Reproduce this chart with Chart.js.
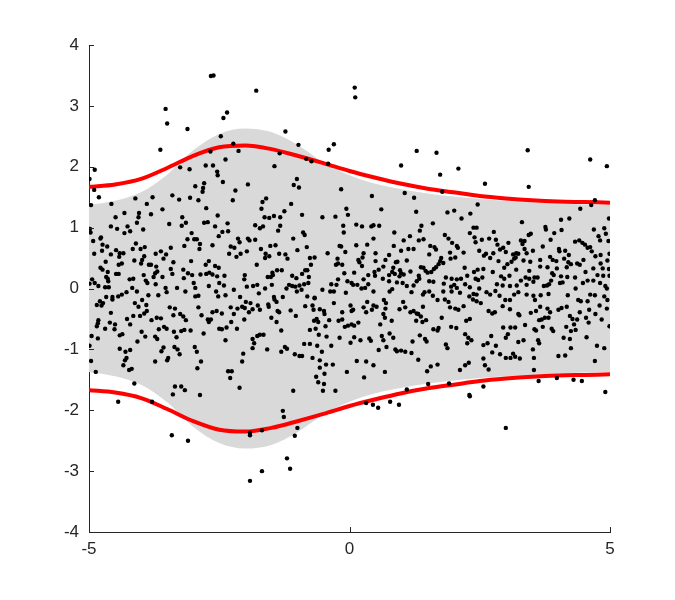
<!DOCTYPE html>
<html>
<head>
<meta charset="utf-8">
<script src="https://cdn.jsdelivr.net/npm/chart.js@4/dist/chart.umd.min.js"></script>
<style>
html,body{margin:0;padding:0;background:#fff;}
#wrap{width:675px;height:600px;position:relative;}
</style>
</head>
<body>
<div id="wrap"><canvas id="c"></canvas></div>
<script>
// ---- data ----
const bandX     = [-5,-4.5,-4,-3.5,-3,-2.5,-2,-1.5,-1,-0.5,0,0.5,1,1.5,2,2.5,3,3.5,4,4.5,5];
const bandUpper = [1.37,1.44,1.58,1.87,2.27,2.54,2.63,2.57,2.36,2.07,1.86,1.72,1.63,1.56,1.51,1.47,1.44,1.42,1.40,1.38,1.37];
const bandLower = [-1.37,-1.44,-1.58,-1.87,-2.27,-2.54,-2.63,-2.57,-2.36,-2.07,-1.86,-1.72,-1.63,-1.56,-1.51,-1.47,-1.44,-1.42,-1.40,-1.38,-1.37];
const redUpper  = [1.67,1.71,1.80,1.98,2.18,2.32,2.35,2.29,2.18,2.06,1.93,1.82,1.72,1.64,1.58,1.52,1.48,1.45,1.43,1.42,1.41];
const redLower  = [-1.67,-1.71,-1.80,-1.98,-2.18,-2.32,-2.35,-2.29,-2.18,-2.06,-1.93,-1.82,-1.72,-1.64,-1.58,-1.52,-1.48,-1.45,-1.43,-1.42,-1.41];
const xTicks = [-5,0,5];
const yTicks = [-4,-3,-2,-1,0,1,2,3,4];

const pointsTop = [[-2.66,3.49],[-2.61,3.50],[-3.53,2.95],[-3.50,2.71],[-3.11,2.62],[-3.63,2.28],[-2.67,2.25],[-2.76,2.02],[-2.62,2.02],[-4.89,1.95],[-4.99,1.80],[-3.25,1.99],[-3.07,1.96],[-2.54,1.92],[-2.53,1.86],[-2.96,1.68],[-2.79,1.73],[-2.81,1.65],[-2.82,1.59],[-4.90,1.62],[-4.81,1.50],[-4.11,1.48],[-3.78,1.50],[-3.40,1.53],[-3.27,1.46],[-3.06,1.49],[-2.90,1.45],
[-1.79,3.25],[-2.35,2.89],[-2.42,2.80],[-2.47,2.50],[-1.23,2.58],[-2.23,2.38],[-2.13,2.26],[-1.34,2.22],[-0.98,2.36],[-0.30,2.37],[-0.40,2.28],[-2.38,2.12],[-0.83,2.13],[-0.73,2.09],[-0.41,2.05],[-1.44,2.01],[-2.43,1.75],[-1.01,1.80],[-1.07,1.70],[-0.97,1.66],[-1.95,1.71],[-2.19,1.61],[-0.16,1.63],[-1.60,1.48],[-2.24,1.45],
[0.10,3.30],[0.11,3.14],[1.29,2.26],[1.67,2.23],[0.99,2.02],[2.09,1.97],[1.74,1.87],[1.78,1.59],[2.60,1.72],[0.43,1.52],[1.06,1.57],[1.24,1.49],
[3.42,2.27],[4.62,2.12],[4.94,2.01],[3.44,1.67],[4.71,1.45]];

const pointsMidLeft = [[-4.57,1.39],[-3.89,1.39],[-4.96,1.37],[-3.59,1.30],[-2.75,1.32],[-4.32,1.24],[-4.04,1.24],[-4.05,1.17],[-3.81,1.22],[-4.49,1.17],[-3.21,1.17],[-2.53,1.20],[-4.08,1.08],[-3.46,1.06],[-3.14,1.08],[-3.22,1.03],[-2.79,1.08],[-2.72,1.09],[-2.58,1.02],[-4.58,1.02],[-4.46,0.98],[-4.26,1.02],[-4.98,0.98],[-4.97,0.92],[-4.32,0.91],[-4.21,0.94],[-3.96,0.97],[-3.03,0.91],[-4.77,0.84],[-4.78,0.82],[-3.11,0.81],[-2.98,0.81],[-2.93,0.81],[-2.51,0.86],[-4.92,0.78],[-4.74,0.72],[-4.65,0.69],[-4.10,0.74],[-3.93,0.68],[-2.87,0.73],[-2.88,0.65],[-3.17,0.70],[-2.63,0.71],[-4.75,0.62],[-4.48,0.63],[-4.41,0.58],[-4.34,0.58],[-4.01,0.65],[-4.16,0.65],[-4.42,0.52],[-4.58,0.56],[-3.98,0.47],[-3.94,0.53],[-3.72,0.57],[-3.62,0.61],[-3.43,0.67],[-3.52,0.56],[-3.57,0.49],[-4.90,0.57],[-4.68,0.44],[-4.43,0.39],[-4.37,0.41],[-4.13,0.46],[-3.85,0.39],[-3.81,0.39],[-3.71,0.36],[-3.38,0.43],[-3.04,0.45],[-2.76,0.39],[-2.70,0.45],[-2.58,0.37],[-4.78,0.34],[-4.74,0.31],[-4.64,0.27],[-4.48,0.24],[-4.43,0.24],[-4.00,0.41],[-3.73,0.25],[-3.69,0.28],[-3.76,0.19],[-3.59,0.19],[-3.43,0.32],[-3.40,0.24],[-3.19,0.31],[-3.10,0.25],[-3.02,0.22],[-3.18,0.17],[-2.86,0.23],[-2.75,0.24],[-2.69,0.26],[-2.63,0.23],[-2.54,0.20],[-2.50,0.09],[-4.94,0.15],[-4.89,0.09],[-4.82,0.04],[-4.99,0.08],[-4.67,0.19],[-4.64,0.16],[-4.63,0.12],[-4.22,0.15],[-4.15,0.16],[-3.95,0.22],[-3.91,0.13],[-3.88,0.09],[-3.72,0.07],[-3.53,0.01],[-3.51,-0.06],[-3.31,0.01],[-3.15,-0.05],[-2.99,0.09],[-2.96,0.01],[-2.70,0.04],[-2.56,-0.05],[-4.69,0.02],[-4.62,0.02],[-4.28,-0.06],[-4.17,0.01],[-4.08,-0.05],[-3.86,-0.11],[-3.67,-0.11],[-4.67,-0.14],[-4.55,-0.14],[-4.44,-0.13],[-4.37,-0.10],[-2.96,-0.13],[-2.90,-0.12],[-2.52,-0.13],
[-1.67,1.42],[-1.12,1.39],[-1.69,1.31],[-1.63,1.17],[-1.54,1.16],[-1.45,1.19],[-1.33,1.17],[-1.25,1.27],[-0.91,1.21],[-0.52,1.17],[-0.27,1.18],[-0.06,1.31],[-0.03,1.21],[-2.34,1.07],[-1.81,1.04],[-1.72,0.99],[-1.66,1.02],[-1.33,1.03],[-1.37,0.95],[-0.12,1.03],[-0.11,0.92],[-2.44,0.93],[-2.33,0.94],[-2.14,0.82],[-2.11,0.76],[-1.95,0.82],[-1.92,0.79],[-1.81,0.80],[-0.89,0.92],[-0.86,0.88],[-1.08,0.82],[-2.28,0.69],[-2.21,0.67],[-1.52,0.70],[-1.42,0.71],[-1.70,0.65],[-0.82,0.68],[-0.19,0.70],[-0.16,0.69],[-1.97,0.61],[-2.31,0.57],[-2.17,0.52],[-2.09,0.57],[-1.61,0.57],[-1.62,0.50],[-1.54,0.53],[-1.35,0.57],[-1.23,0.56],[-1.19,0.49],[-1.00,0.63],[-0.42,0.58],[-0.08,0.60],[-0.76,0.50],[-0.67,0.51],[-0.23,0.49],[-0.26,0.39],[-0.22,0.41],[-0.74,0.39],[-0.14,0.39],[-1.78,0.39],[-1.39,0.30],[-1.30,0.30],[-1.48,0.26],[-1.47,0.22],[-1.57,0.19],[-1.51,0.19],[-1.10,0.21],[-1.02,0.17],[-0.91,0.24],[-0.85,0.30],[-0.81,0.30],[-0.78,0.19],[-0.10,0.25],[-2.51,0.34],[-2.40,0.21],[-2.01,0.22],[-2.02,0.15],[-0.04,0.12],[0.04,0.09],[-0.22,0.15],[-0.35,0.07],[-2.41,0.05],[-2.22,-0.02],[-1.97,0.03],[-1.85,0.04],[-1.77,0.06],[-1.62,0.00],[-1.49,0.06],[-1.21,0.00],[-1.16,0.06],[-1.10,0.04],[-1.04,0.03],[-0.96,0.05],[-0.87,0.07],[-0.79,0.09],[-0.52,-0.02],[-0.37,-0.05],[-0.30,-0.05],[-0.25,0.06],[-0.07,-0.07],[-2.38,-0.11],[-2.10,-0.14],[-1.74,-0.08],[-1.45,-0.14],[-1.28,-0.14],[-0.81,-0.13],[-0.67,-0.15],[-1.01,-0.05],[-0.92,-0.02]];

const pointsMidRight = [[0.61,1.30],[1.28,1.26],[1.88,1.25],[2.01,1.28],[2.32,1.23],[2.46,1.38],[2.15,1.15],[0.13,1.05],[0.24,1.02],[0.42,1.02],[0.46,1.04],[0.57,1.03],[1.60,1.07],[1.38,1.03],[1.35,0.95],[0.86,0.92],[2.31,0.91],[2.38,1.00],[2.44,1.00],[1.83,0.88],[1.90,0.82],[2.40,0.84],[2.42,0.76],[2.54,0.80],[1.04,0.79],[1.16,0.86],[1.33,0.79],[1.42,0.81],[0.13,0.71],[0.34,0.72],[0.46,0.82],[0.85,0.70],[1.97,0.75],[2.06,0.70],[2.08,0.67],[0.99,0.62],[1.13,0.65],[1.23,0.65],[1.55,0.70],[1.63,0.68],[1.66,0.64],[2.19,0.59],[2.49,0.62],[2.58,0.54],[0.27,0.58],[0.25,0.51],[0.50,0.58],[0.76,0.55],[1.53,0.56],[1.80,0.42],[1.76,0.50],[1.93,0.59],[1.94,0.49],[2.03,0.51],[0.17,0.47],[0.19,0.43],[0.50,0.45],[0.69,0.47],[0.92,0.44],[1.10,0.46],[0.24,0.37],[0.65,0.36],[0.56,0.31],[0.48,0.27],[0.84,0.34],[0.89,0.43],[0.82,0.27],[0.97,0.30],[0.99,0.25],[1.17,0.28],[1.37,0.35],[1.42,0.34],[1.46,0.29],[1.66,0.35],[1.71,0.40],[1.74,0.45],[1.62,0.32],[1.57,0.27],[2.21,0.34],[2.39,0.27],[2.46,0.31],[2.57,0.32],[0.09,0.26],[0.36,0.22],[0.49,0.21],[0.76,0.22],[0.87,0.24],[0.96,0.20],[1.04,0.23],[1.33,0.21],[1.34,0.16],[1.50,0.26],[1.85,0.18],[1.96,0.16],[2.06,0.15],[2.14,0.16],[2.26,0.21],[2.42,0.16],[2.55,0.18],[0.27,0.15],[0.15,0.06],[0.36,0.07],[0.64,0.16],[0.76,0.12],[0.91,0.10],[1.02,0.09],[1.29,0.12],[1.23,0.05],[1.53,0.12],[1.61,0.11],[1.81,0.08],[1.95,0.03],[2.01,0.06],[2.06,0.01],[2.22,0.07],[2.31,0.02],[2.47,0.14],[2.49,0.00],[0.23,0.00],[0.30,0.01],[0.46,-0.05],[0.77,-0.05],[0.82,-0.01],[1.10,0.04],[1.19,-0.06],[1.41,-0.10],[1.44,-0.06],[1.53,-0.05],[1.60,-0.12],[1.80,-0.05],[1.96,-0.05],[2.12,-0.07],[2.30,-0.13],[2.38,-0.09],[2.44,-0.10],[0.07,0.06],
[4.64,1.37],[4.43,1.31],[3.31,1.09],[4.06,1.13],[4.22,1.15],[4.98,1.15],[2.77,0.93],[3.44,0.88],[3.48,0.90],[3.76,1.01],[3.77,0.97],[3.93,0.91],[4.07,0.96],[4.69,0.97],[4.89,0.99],[4.92,0.90],[4.78,0.86],[4.81,0.79],[2.68,0.82],[2.81,0.80],[2.84,0.72],[2.89,0.64],[2.95,0.67],[3.05,0.75],[3.29,0.79],[3.36,0.78],[3.32,0.73],[3.36,0.65],[3.86,0.80],[3.71,0.69],[4.33,0.77],[4.41,0.79],[4.47,0.75],[4.52,0.72],[4.57,0.67],[4.62,0.68],[4.97,0.78],[2.62,0.57],[2.76,0.58],[3.00,0.60],[3.14,0.56],[3.20,0.58],[3.24,0.57],[3.40,0.58],[3.52,0.62],[4.02,0.65],[4.03,0.61],[4.14,0.62],[4.21,0.55],[4.12,0.49],[4.65,0.61],[4.72,0.53],[4.82,0.55],[4.99,0.57],[2.70,0.50],[2.86,0.45],[3.11,0.44],[3.16,0.49],[3.19,0.51],[3.34,0.46],[3.47,0.44],[3.66,0.47],[3.85,0.52],[3.90,0.47],[3.97,0.45],[4.20,0.43],[4.25,0.40],[4.37,0.41],[4.42,0.39],[4.49,0.47],[4.82,0.41],[4.95,0.46],[2.97,0.34],[3.03,0.40],[3.20,0.31],[3.45,0.29],[3.66,0.36],[3.80,0.35],[3.98,0.33],[4.17,0.35],[4.53,0.27],[4.68,0.33],[4.86,0.33],[4.98,0.32],[2.75,0.27],[2.91,0.20],[2.97,0.16],[3.07,0.21],[3.29,0.13],[3.38,0.18],[3.45,0.16],[3.55,0.18],[3.61,0.18],[3.89,0.25],[3.92,0.22],[4.06,0.20],[4.18,0.19],[4.33,0.18],[4.57,0.13],[4.76,0.22],[4.87,0.21],[4.99,0.21],[2.83,0.07],[2.94,0.05],[3.08,0.04],[3.21,0.05],[3.40,0.06],[3.53,0.11],[3.73,0.04],[3.79,0.05],[3.83,0.07],[3.87,0.13],[4.04,0.09],[4.09,0.10],[4.34,0.00],[4.48,0.09],[4.68,0.13],[4.81,0.09],[4.91,0.04],[4.94,0.00],[2.63,-0.06],[2.70,-0.10],[2.80,-0.04],[2.88,-0.12],[3.16,-0.10],[3.24,-0.06],[3.40,-0.10],[3.53,-0.12],[3.67,-0.11],[3.82,-0.09],[4.19,-0.11],[4.62,-0.10],[4.71,-0.11],[4.89,-0.13]];

const pointsLowLeft = [[-4.79,-0.21],[-4.55,-0.18],[-4.85,-0.27],[-4.73,-0.24],[-4.76,-0.28],[-4.12,-0.24],[-4.05,-0.30],[-3.90,-0.27],[-3.98,-0.19],[-4.58,-0.40],[-4.15,-0.45],[-4.02,-0.45],[-3.89,-0.37],[-3.94,-0.41],[-3.45,-0.31],[-3.35,-0.33],[-3.38,-0.44],[-3.25,-0.42],[-3.19,-0.46],[-2.90,-0.31],[-2.84,-0.44],[-2.72,-0.51],[-2.63,-0.39],[-2.55,-0.37],[-4.82,-0.52],[-4.83,-0.57],[-4.85,-0.62],[-4.60,-0.56],[-4.50,-0.59],[-4.51,-0.67],[-4.69,-0.66],[-4.41,-0.77],[-4.36,-0.75],[-4.27,-0.50],[-4.21,-0.59],[-3.80,-0.52],[-3.70,-0.48],[-3.62,-0.49],[-3.56,-0.63],[-3.51,-0.66],[-3.66,-0.67],[-3.99,-0.71],[-3.92,-0.79],[-3.73,-0.79],[-3.69,-0.83],[-3.37,-0.71],[-3.32,-0.80],[-3.23,-0.70],[-3.17,-0.68],[-3.05,-0.69],[-3.14,-0.52],[-2.80,-0.74],[-2.70,-0.55],[-2.66,-0.51],[-2.50,-0.66],[-4.95,-0.78],[-4.83,-0.82],[-4.07,-0.87],[-4.41,-0.99],[-4.30,-1.04],[-4.21,-1.01],[-4.28,-1.14],[-4.31,-1.18],[-4.34,-1.26],[-4.18,-1.32],[-4.23,-1.34],[-3.57,-0.97],[-3.61,-1.03],[-3.48,-1.14],[-3.50,-1.18],[-3.36,-0.96],[-3.30,-1.00],[-3.26,-1.08],[-2.97,-0.96],[-2.93,-1.04],[-2.85,-1.20],[-2.92,-1.31],[-3.73,-1.20],[-4.96,-1.19],[-4.87,-1.37],[-4.13,-1.56],[-3.35,-1.61],[-3.23,-1.61],[-3.16,-1.67],[-3.39,-1.74],[-2.87,-1.75],[-4.99,-0.94],
[-1.99,-0.22],[-1.90,-0.24],[-2.28,-0.31],[-2.15,-0.33],[-2.06,-0.30],[-2.01,-0.32],[-1.93,-0.39],[-1.86,-0.34],[-2.22,-0.42],[-2.45,-0.41],[-1.76,-0.28],[-1.72,-0.35],[-1.56,-0.26],[-1.55,-0.30],[-1.44,-0.18],[-1.40,-0.22],[-1.38,-0.37],[-1.35,-0.39],[-1.50,-0.48],[-1.40,-0.55],[-1.13,-0.36],[-1.03,-0.45],[-0.67,-0.16],[-0.85,-0.29],[-0.71,-0.28],[-0.69,-0.35],[-0.57,-0.34],[-0.49,-0.37],[-0.48,-0.42],[-0.30,-0.24],[-0.14,-0.39],[0.02,-0.28],[0.04,-0.37],[-0.68,-0.53],[-0.63,-0.50],[-0.60,-0.55],[-0.76,-0.68],[-0.65,-0.66],[-0.46,-0.62],[-0.39,-0.52],[-0.21,-0.53],[-0.14,-0.51],[-0.09,-0.63],[-0.03,-0.61],[0.04,-0.59],[-2.27,-0.55],[-2.36,-0.64],[-2.45,-0.67],[-2.16,-0.66],[-2.02,-0.51],[-1.31,-0.69],[-0.59,-0.76],[-0.44,-0.79],[-0.19,-0.81],[0.02,-0.89],[-2.38,-0.85],[-1.86,-0.83],[-1.83,-0.90],[-1.77,-0.78],[-1.72,-0.76],[-1.65,-0.76],[-1.86,-0.98],[-1.58,-1.00],[-1.31,-1.04],[-1.24,-0.96],[-1.20,-0.99],[-0.87,-0.91],[-0.76,-0.91],[-0.62,-0.94],[-0.35,-0.94],[-0.53,-1.04],[-1.05,-1.08],[-0.96,-1.11],[-0.91,-1.11],[-0.71,-1.14],[-0.57,-1.18],[-2.04,-1.07],[-2.06,-1.20],[-0.45,-1.25],[-0.32,-1.25],[-0.57,-1.30],[-0.48,-1.40],[-0.05,-1.37],[-2.33,-1.36],[-2.26,-1.36],[-2.29,-1.47],[-0.64,-1.45],[-0.60,-1.54],[-0.49,-1.57],[-2.11,-1.63],[-1.08,-1.68],[-0.51,-1.68],[-0.27,-1.68]];

const pointsLowRight = [[0.07,-0.35],[0.27,-0.31],[0.34,-0.22],[0.32,-0.39],[0.46,-0.28],[0.43,-0.35],[0.52,-0.30],[0.66,-0.19],[0.70,-0.24],[0.69,-0.33],[0.65,-0.42],[0.68,-0.48],[0.81,-0.53],[0.96,-0.34],[1.03,-0.22],[1.07,-0.31],[1.17,-0.39],[1.23,-0.37],[1.29,-0.41],[1.32,-0.42],[1.41,-0.30],[1.28,-0.53],[1.37,-0.46],[1.40,-0.55],[1.47,-0.52],[1.69,-0.19],[1.77,-0.48],[1.83,-0.18],[1.90,-0.22],[1.93,-0.31],[2.03,-0.33],[2.09,-0.35],[2.19,-0.29],[2.24,-0.53],[2.31,-0.50],[2.37,-0.18],[2.44,-0.21],[2.52,-0.24],[0.17,-0.56],[0.09,-0.61],[0.59,-0.59],[1.61,-0.67],[1.69,-0.69],[1.71,-0.65],[1.95,-0.63],[2.05,-0.65],[0.09,-0.80],[0.21,-0.85],[0.38,-0.82],[0.41,-0.86],[0.62,-0.78],[0.65,-0.85],[0.77,-0.74],[0.84,-0.81],[1.21,-0.87],[1.35,-0.77],[1.45,-0.83],[1.48,-0.87],[1.85,-0.92],[1.88,-0.98],[2.22,-0.75],[2.28,-0.81],[2.34,-0.85],[2.26,-0.90],[2.57,-0.93],[0.56,-1.01],[0.71,-0.96],[0.88,-1.00],[0.91,-1.03],[0.99,-1.02],[1.07,-1.04],[1.19,-1.06],[0.14,-1.19],[0.32,-1.20],[0.46,-1.26],[0.68,-1.37],[1.32,-1.17],[1.49,-1.36],[1.56,-1.28],[1.69,-1.25],[2.12,-1.34],[2.22,-1.26],[2.29,-1.22],[0.28,-1.46],[1.10,-1.66],[1.51,-1.57],[1.91,-1.56],[2.30,-1.75],[2.57,-1.61],
[2.99,-0.19],[3.08,-0.19],[3.56,-0.19],[4.39,-0.19],[4.44,-0.21],[4.57,-0.21],[4.95,-0.19],[2.67,-0.37],[2.74,-0.41],[2.79,-0.39],[2.94,-0.29],[3.08,-0.34],[3.24,-0.42],[3.48,-0.40],[3.58,-0.37],[3.66,-0.30],[3.80,-0.33],[3.85,-0.39],[4.01,-0.35],[4.07,-0.32],[4.17,-0.30],[4.23,-0.45],[4.28,-0.50],[4.37,-0.51],[4.42,-0.39],[4.54,-0.48],[4.60,-0.35],[4.72,-0.42],[4.84,-0.51],[4.59,-0.56],[4.80,-0.28],[4.94,-0.33],[4.99,-0.62],[3.64,-0.52],[3.69,-0.51],[3.75,-0.48],[3.82,-0.48],[3.71,-0.63],[3.55,-0.67],[3.58,-0.69],[3.37,-0.60],[3.26,-0.44],[2.95,-0.64],[3.09,-0.64],[3.18,-0.64],[3.00,-0.81],[3.04,-0.75],[2.72,-0.78],[3.34,-0.85],[3.24,-0.88],[3.62,-0.85],[3.64,-0.90],[3.88,-0.66],[3.91,-0.70],[4.11,-0.81],[4.16,-0.63],[4.25,-0.70],[4.31,-0.59],[4.34,-0.68],[4.55,-0.80],[4.23,-0.83],[4.25,-0.98],[4.75,-0.94],[4.89,-0.98],[2.65,-0.90],[2.81,-0.94],[2.74,-1.05],[2.57,-1.15],[2.89,-1.08],[3.00,-1.14],[3.09,-1.14],[3.14,-1.07],[3.18,-1.12],[3.27,-1.15],[3.52,-1.00],[3.54,-1.14],[4.01,-1.11],[4.14,-1.10],[4.71,-1.19],[2.60,-1.26],[2.67,-1.33],[3.54,-1.34],[3.63,-1.52],[3.98,-1.47],[4.30,-1.50],[4.46,-1.52],[4.91,-1.70]];

const pointsBottom = [[-4.44,-1.86],[-3.79,-1.86],[-3.41,-2.41],[-3.10,-2.50],[-1.91,-2.37],[-1.91,-2.41],[-1.68,-2.33],[-1.68,-3.00],[-1.91,-3.16],[-1.28,-2.01],[-1.26,-2.11],[-1.20,-2.79],[-1.14,-2.96],[-1.05,-2.42],[-1.00,-2.29],[0.32,-1.88],[0.45,-1.91],[0.55,-1.96],[0.78,-1.86],[0.95,-1.91],[2.31,-1.77],[3.00,-2.29]];

// ---- build chart ----
const toXY = arr => arr.map(p => ({x: p[0], y: p[1]}));
const curve = ys => bandX.map((x, i) => ({x, y: ys[i]}));
const allPoints = [].concat(pointsTop, pointsMidLeft, pointsMidRight, pointsLowLeft, pointsLowRight, pointsBottom);

const AXIS = '#262626';
Chart.defaults.font.family = '"Liberation Sans", Arial, Helvetica, sans-serif';
Chart.defaults.font.size = 17;
Chart.defaults.color = AXIS;

const inwardTicks = {
  id: 'inwardTicks',
  afterDraw(chart) {
    const {ctx, chartArea: a, scales: {x, y}} = chart;
    ctx.save();
    ctx.strokeStyle = AXIS;
    ctx.lineWidth = 1;
    ctx.beginPath();
    y.ticks.forEach(t => {
      const py = Math.round(y.getPixelForValue(t.value)) + 0.5;
      ctx.moveTo(a.left, py); ctx.lineTo(a.left + 5, py);
    });
    x.ticks.forEach(t => {
      const px = Math.round(x.getPixelForValue(t.value)) + 0.5;
      ctx.moveTo(px, a.bottom); ctx.lineTo(px, a.bottom - 5);
    });
    ctx.stroke();
    ctx.restore();
  }
};

new Chart(document.getElementById('c'), {
  type: 'scatter',
  data: {
    datasets: [
      {
        label: 'data', data: toXY(allPoints), order: 0,
        pointRadius: 2.2, pointBackgroundColor: '#000', pointBorderWidth: 0, showLine: false
      },
      {
        type: 'line', label: 'upper bound', data: curve(redUpper), order: 1,
        borderColor: '#ff0000', borderWidth: 4, pointRadius: 0, cubicInterpolationMode: 'monotone', fill: false
      },
      {
        type: 'line', label: 'lower bound', data: curve(redLower), order: 1,
        borderColor: '#ff0000', borderWidth: 4, pointRadius: 0, cubicInterpolationMode: 'monotone', fill: false
      },
      {
        type: 'line', label: 'band upper', data: curve(bandUpper), order: 2,
        borderWidth: 0, borderColor: 'rgba(0,0,0,0)', pointRadius: 0, cubicInterpolationMode: 'monotone',
        fill: '+1', backgroundColor: 'rgb(217,217,217)'
      },
      {
        type: 'line', label: 'band lower', data: curve(bandLower), order: 2,
        borderWidth: 0, borderColor: 'rgba(0,0,0,0)', pointRadius: 0, cubicInterpolationMode: 'monotone', fill: false
      }
    ]
  },
  options: {
    responsive: true,
    maintainAspectRatio: false,
    animation: false,
    layout: {padding: {left: 0, right: 65, top: 45, bottom: 0}},
    plugins: {legend: {display: false}, tooltip: {enabled: false}},
    scales: {
      x: {
        type: 'linear', min: -5, max: 5,
        afterBuildTicks: s => { s.ticks = xTicks.map(v => ({value: v})); },
        afterFit: s => { s.height = 68; },
        grid: {display: false, drawTicks: false},
        border: {display: true, color: AXIS, width: 1},
        ticks: {padding: 7, color: AXIS, maxRotation: 0}
      },
      y: {
        type: 'linear', min: -4, max: 4,
        afterBuildTicks: s => { s.ticks = yTicks.map(v => ({value: v})); },
        afterFit: s => { s.width = 89; },
        grid: {display: false, drawTicks: false},
        border: {display: true, color: AXIS, width: 1},
        ticks: {padding: 10, color: AXIS}
      }
    }
  },
  plugins: [inwardTicks]
});
</script>
</body>
</html>
